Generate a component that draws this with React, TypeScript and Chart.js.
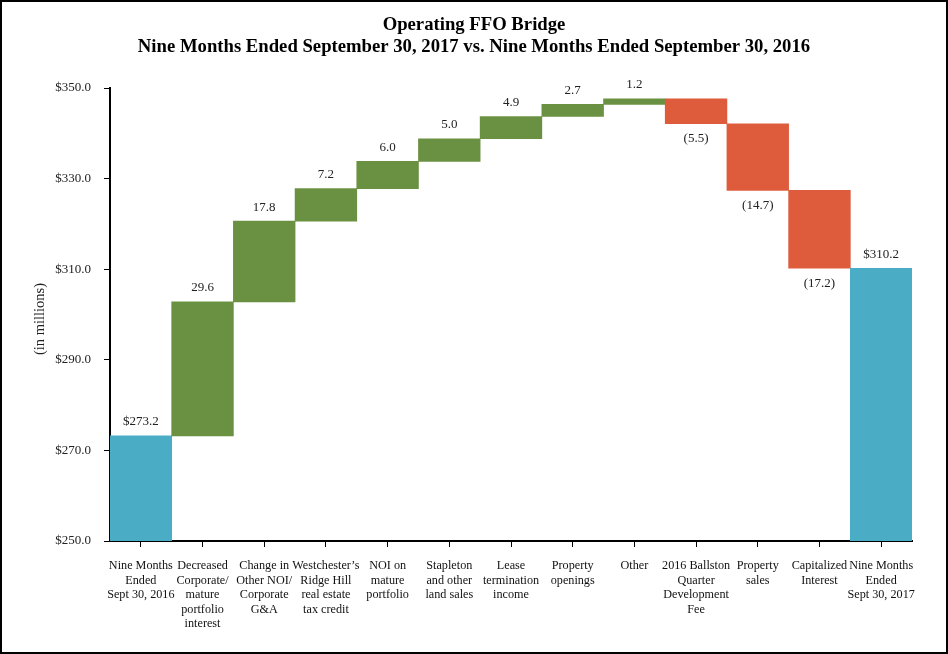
import React, { useEffect, useRef } from "react";
import { Chart, registerables } from "chart.js";

Chart.register(...registerables);

const categories: string[][] = [
  ["Nine Months", "Ended", "Sept 30, 2016"],
  ["Decreased", "Corporate/", "mature", "portfolio", "interest"],
  ["Change in", "Other NOI/", "Corporate", "G&A"],
  ["Westchester\u2019s", "Ridge Hill", "real estate", "tax credit"],
  ["NOI on", "mature", "portfolio"],
  ["Stapleton", "and other", "land sales"],
  ["Lease", "termination", "income"],
  ["Property", "openings"],
  ["Other"],
  ["2016 Ballston", "Quarter", "Development", "Fee"],
  ["Property", "sales"],
  ["Capitalized", "Interest"],
  ["Nine Months", "Ended", "Sept 30, 2017"],
];

const values: number[] = [273.2, 29.6, 17.8, 7.2, 6.0, 5.0, 4.9, 2.7, 1.2, -5.5, -14.7, -17.2, 310.2];
const kinds: string[] = ["total", "delta", "delta", "delta", "delta", "delta", "delta", "delta", "delta", "delta", "delta", "delta", "total"];

const yTicks: number[] = [250, 270, 290, 310, 330, 350];
const titleLines: string[] = ["Operating FFO Bridge", "Nine Months Ended September 30, 2017 vs. Nine Months Ended September 30, 2016"];
const yAxisTitle = "(in millions)";

const BLUE = "#4BACC6";
const GREEN = "#6A9142";
const RED = "#DE5B3B";
const FONT = "'Liberation Serif', 'Times New Roman', serif";

export default function App() {
  const ref = useRef<HTMLCanvasElement | null>(null);

  useEffect(() => {
    if (!ref.current) return;
    let running = 0;
    const ranges: [number, number][] = values.map((v, i) => {
      if (kinds[i] === "total") {
        running = v;
        return [yTicks[0], v];
      }
      const start = running;
      running = +(running + v).toFixed(1);
      return [start, running];
    });
    const colors = values.map((v, i) => (kinds[i] === "total" ? BLUE : v >= 0 ? GREEN : RED));
    const labelText = values.map((v, i) =>
      kinds[i] === "total" ? "$" + v.toFixed(1) : v >= 0 ? v.toFixed(1) : "(" + Math.abs(v).toFixed(1) + ")"
    );

    const overlay = {
      id: "overlay",
      afterDatasetsDraw(chart: any) {
        const ctx = chart.ctx;
        const meta = chart.getDatasetMeta(0);
        ctx.save();
        ctx.font = "13px " + FONT;
        ctx.fillStyle = "#222";
        ctx.textAlign = "center";
        ctx.textBaseline = "middle";
        meta.data.forEach((bar: any, i: number) => {
          const r = ranges[i];
          const top = chart.scales.y.getPixelForValue(Math.max(r[0], r[1]));
          const bottom = chart.scales.y.getPixelForValue(Math.min(r[0], r[1]));
          if (values[i] >= 0) ctx.fillText(labelText[i], bar.x, top - 14);
          else ctx.fillText(labelText[i], bar.x, bottom + 15);
        });
        ctx.restore();
      },
      afterDraw(chart: any) {
        const ctx = chart.ctx;
        ctx.save();
        // title
        ctx.fillStyle = "#000";
        ctx.textAlign = "center";
        ctx.textBaseline = "middle";
        ctx.font = "bold 18.7px " + FONT;
        titleLines.forEach((t, i) => ctx.fillText(t, chart.width / 2, 25 + i * 22));
        // y-axis title
        ctx.save();
        ctx.translate(40, 319);
        ctx.rotate(-Math.PI / 2);
        ctx.font = "14.5px " + FONT;
        ctx.fillStyle = "#222";
        ctx.fillText(yAxisTitle, 0, 0);
        ctx.restore();
        // frame
        ctx.strokeStyle = "#000";
        ctx.lineWidth = 2;
        ctx.strokeRect(1, 1, chart.width - 2, chart.height - 2);
        ctx.restore();
      },
    };

    const chart = new Chart(ref.current, {
      type: "bar",
      data: {
        labels: categories,
        datasets: [
          {
            data: ranges as any,
            backgroundColor: colors,
            borderWidth: 0,
            barPercentage: 1,
            categoryPercentage: 1,
          },
        ],
      },
      options: {
        animation: false,
        responsive: false,
        layout: { padding: { left: 0, right: 36, top: 88, bottom: 0 } },
        plugins: {
          legend: { display: false },
          tooltip: { enabled: false },
          title: { display: false },
        },
        scales: {
          x: {
            grid: { display: true, offset: false, drawOnChartArea: false, drawTicks: true, tickLength: 6, color: "#000" },
            border: { display: true, color: "#000", width: 2 },
            ticks: {
              color: "#111",
              font: { family: FONT, size: 12.2, lineHeight: 1.18 },
              maxRotation: 0,
              minRotation: 0,
              autoSkip: false,
              padding: 12,
            },
            afterFit(scale: any) {
              scale.height = 113;
            },
          },
          y: {
            min: 250,
            max: 350,
            afterBuildTicks(scale: any) {
              scale.ticks = yTicks.map((v) => ({ value: v }));
            },
            grid: { display: true, drawOnChartArea: false, drawTicks: true, tickLength: 6, color: "#000" },
            border: { display: true, color: "#000", width: 2 },
            ticks: {
              color: "#222",
              font: { family: FONT, size: 13 },
              padding: 13,
              callback: (v: any) => "$" + Number(v).toFixed(1),
            },
            afterFit(scale: any) {
              scale.width = 110;
            },
          },
        },
      },
      plugins: [overlay],
    });
    return () => chart.destroy();
  }, []);

  return (
    <div style={{ position: "fixed", left: 0, top: 0, width: 948, height: 654, background: "#fff" }}>
      <canvas ref={ref} width={948} height={654} style={{ width: 948, height: 654 }} />
    </div>
  );
}
